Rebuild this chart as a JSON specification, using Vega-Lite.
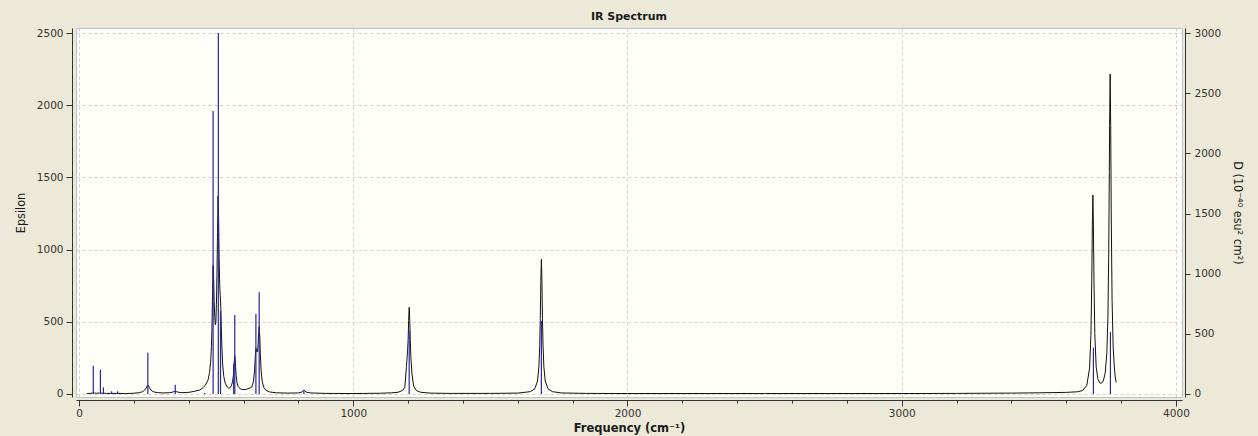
{
"$schema": "https://vega.github.io/schema/vega-lite/v6.json",
"width": 1106,
"height": 369,
"autosize": {"type": "none"},
"padding": {"left": 76, "top": 28, "right": 76, "bottom": 39},
"background": "#ECE9D8",
"title": {"text": "IR Spectrum", "font": "DejaVu Sans", "fontSize": 11, "fontWeight": "bold", "color": "#1a1a1a", "anchor": "middle", "offset": 6},
"config": {
  "view": {"fill": "#FFFFF7", "stroke": "#B4C4D4", "strokeWidth": 1},
  "axis": {"labelFont": "DejaVu Sans", "labelFontSize": 10.5, "labelColor": "#333333", "domainColor": "#333333", "tickColor": "#333333", "gridColor": "#CFCFCF", "gridDash": [3, 3], "gridWidth": 1}
},
"datasets": {
  "curve": [
    {"f":28,"e":3},{"f":40,"e":4},{"f":48,"e":6},{"f":52,"e":8},{"f":56,"e":6},{"f":66,"e":5},{"f":74,"e":6},{"f":78,"e":7},{"f":82,"e":6},{"f":89,"e":5},{"f":100,"e":4},{"f":119,"e":4},{"f":141,"e":4},{"f":170,"e":3},{"f":200,"e":5},{"f":220,"e":9},{"f":232,"e":16},{"f":240,"e":28},{"f":245,"e":42},{"f":249,"e":58},{"f":251,"e":62},{"f":253,"e":58},{"f":257,"e":42},{"f":262,"e":28},{"f":270,"e":16},{"f":285,"e":9},{"f":310,"e":7},{"f":330,"e":9},{"f":340,"e":12},{"f":346,"e":16},{"f":351,"e":19},{"f":356,"e":16},{"f":362,"e":12},{"f":375,"e":9},{"f":400,"e":11},{"f":420,"e":18},{"f":441,"e":28},{"f":453,"e":45},{"f":459,"e":58},{"f":465,"e":75},{"f":471,"e":100},{"f":476,"e":150},{"f":480,"e":220},{"f":483,"e":330},{"f":485,"e":480},{"f":487,"e":700},{"f":489,"e":890},{"f":491,"e":800},{"f":493,"e":640},{"f":495,"e":530},{"f":497,"e":480},{"f":499,"e":500},{"f":501,"e":620},{"f":503,"e":820},{"f":505,"e":1120},{"f":507,"e":1370},{"f":509,"e":1230},{"f":511,"e":940},{"f":513,"e":760},{"f":515,"e":680},{"f":517,"e":600},{"f":519,"e":450},{"f":521,"e":320},{"f":524,"e":200},{"f":528,"e":120},{"f":533,"e":75},{"f":540,"e":50},{"f":546,"e":40},{"f":552,"e":45},{"f":556,"e":60},{"f":560,"e":85},{"f":563,"e":130},{"f":565,"e":190},{"f":567,"e":250},{"f":568,"e":265},{"f":569,"e":250},{"f":571,"e":190},{"f":573,"e":130},{"f":576,"e":80},{"f":580,"e":52},{"f":588,"e":35},{"f":598,"e":30},{"f":610,"e":32},{"f":620,"e":38},{"f":630,"e":48},{"f":636,"e":84},{"f":640,"e":160},{"f":643,"e":265},{"f":645,"e":316},{"f":647,"e":302},{"f":649,"e":290},{"f":651,"e":295},{"f":653,"e":340},{"f":655,"e":421},{"f":657,"e":466},{"f":659,"e":399},{"f":661,"e":284},{"f":664,"e":161},{"f":668,"e":85},{"f":674,"e":45},{"f":682,"e":25},{"f":695,"e":14},{"f":720,"e":8},{"f":760,"e":6},{"f":800,"e":7},{"f":812,"e":13},{"f":817,"e":22},{"f":820,"e":28},{"f":823,"e":22},{"f":828,"e":13},{"f":845,"e":7},{"f":900,"e":4},{"f":1000,"e":3},{"f":1100,"e":5},{"f":1140,"e":8},{"f":1164,"e":12},{"f":1180,"e":25},{"f":1188,"e":46},{"f":1194,"e":190},{"f":1198,"e":300},{"f":1200,"e":370},{"f":1202,"e":510},{"f":1204,"e":600},{"f":1206,"e":510},{"f":1208,"e":370},{"f":1210,"e":260},{"f":1214,"e":140},{"f":1220,"e":55},{"f":1230,"e":24},{"f":1245,"e":12},{"f":1280,"e":6},{"f":1350,"e":4},{"f":1500,"e":4},{"f":1600,"e":6},{"f":1646,"e":16},{"f":1662,"e":36},{"f":1672,"e":90},{"f":1677,"e":190},{"f":1680,"e":338},{"f":1682,"e":523},{"f":1684,"e":781},{"f":1686,"e":933},{"f":1688,"e":781},{"f":1690,"e":523},{"f":1692,"e":338},{"f":1695,"e":190},{"f":1700,"e":90},{"f":1710,"e":36},{"f":1726,"e":16},{"f":1760,"e":7},{"f":1850,"e":4},{"f":2000,"e":3},{"f":2500,"e":3},{"f":3000,"e":3},{"f":3200,"e":4},{"f":3400,"e":6},{"f":3500,"e":8},{"f":3600,"e":11},{"f":3640,"e":15},{"f":3660,"e":24},{"f":3675,"e":60},{"f":3685,"e":180},{"f":3690,"e":414},{"f":3693,"e":782},{"f":3695,"e":1163},{"f":3697,"e":1378},{"f":3699,"e":1165},{"f":3701,"e":784},{"f":3704,"e":419},{"f":3709,"e":189},{"f":3715,"e":105},{"f":3722,"e":78},{"f":3728,"e":74},{"f":3735,"e":90},{"f":3742,"e":146},{"f":3748,"e":285},{"f":3752,"e":543},{"f":3755,"e":1003},{"f":3757,"e":1541},{"f":3758,"e":1858},{"f":3760,"e":2216},{"f":3762,"e":1858},{"f":3764,"e":1246},{"f":3767,"e":654},{"f":3771,"e":322},{"f":3776,"e":166},{"f":3779,"e":110},{"f":3782,"e":80}
  ],
  "sticks": [
    {"f":52,"d":235},{"f":78,"d":202},{"f":89,"d":55},{"f":119,"d":22},{"f":141,"d":22},{"f":251,"d":343},{"f":351,"d":77},{"f":458,"d":8},{"f":489,"d":2353},{"f":508,"d":3000},{"f":516,"d":690},{"f":564,"d":250},{"f":568,"d":657},{"f":645,"d":665},{"f":657,"d":845},{"f":820,"d":30},{"f":1204,"d":526},{"f":1686,"d":606},{"f":3699,"d":385},{"f":3761,"d":515}
  ]
},
"layer": [
  {
    "data": {"name": "curve"},
    "mark": {"type": "line", "color": "#111111", "strokeWidth": 1},
    "encoding": {
      "x": {"field": "f", "type": "quantitative",
        "scale": {"domain": [-11, 4022], "nice": false, "zero": false},
        "axis": {"offset": 3, "title": "Frequency (cm⁻¹)", "titleFont": "DejaVu Sans", "titleFontSize": 11.5, "titleFontWeight": "bold", "titleColor": "#1a1a1a", "titlePadding": 4,
          "values": [0,50,100,150,200,250,300,350,400,450,500,550,600,650,700,750,800,850,900,950,1000,1050,1100,1150,1200,1250,1300,1350,1400,1450,1500,1550,1600,1650,1700,1750,1800,1850,1900,1950,2000,2050,2100,2150,2200,2250,2300,2350,2400,2450,2500,2550,2600,2650,2700,2750,2800,2850,2900,2950,3000,3050,3100,3150,3200,3250,3300,3350,3400,3450,3500,3550,3600,3650,3700,3750,3800,3850,3900,3950,4000],
          "labelExpr": "datum.value % 500 === 0 ? datum.label : ''",
          "format": "d",
          "tickSize": {"condition": {"test": "datum.value % 500 === 0", "value": 6}, "value": 3},
          "gridOpacity": {"condition": {"test": "datum.value % 500 === 0", "value": 1}, "value": 0},
          "labelPadding": 2, "labelFlush": false, "labelOverlap": false}},
      "y": {"field": "e", "type": "quantitative",
        "scale": {"domain": [-21, 2535], "nice": false, "zero": false},
        "axis": {"orient": "left", "offset": 4, "values": [0,500,1000,1500,2000,2500], "format": "d", "tickSize": 6, "labelPadding": 3, "grid": true,
          "title": "Epsilon", "titleFont": "DejaVu Sans Condensed, Liberation Sans, sans-serif", "titleFontSize": 12.5, "titleFontWeight": "normal", "titleColor": "#1a1a1a", "titlePadding": 9}}
    }
  },
  {
    "data": {"name": "sticks"},
    "mark": {"type": "rule", "color": "#2626A6", "strokeWidth": 1.2},
    "encoding": {
      "x": {"field": "f", "type": "quantitative"},
      "y": {"field": "d", "type": "quantitative",
        "scale": {"domain": [-25, 3042], "nice": false, "zero": false},
        "axis": {"orient": "right", "offset": 3, "values": [0,500,1000,1500,2000,2500,3000], "format": "d", "tickSize": 5, "labelPadding": 4, "grid": false,
          "title": "D (10⁻⁴⁰ esu² cm²)", "titleFont": "DejaVu Sans Condensed, Liberation Sans, sans-serif", "titleFontSize": 12.5, "titleFontWeight": "normal", "titleColor": "#1a1a1a", "titlePadding": 10}},
      "y2": {"datum": 0}
    }
  }
],
"resolve": {"scale": {"y": "independent"}}
}
